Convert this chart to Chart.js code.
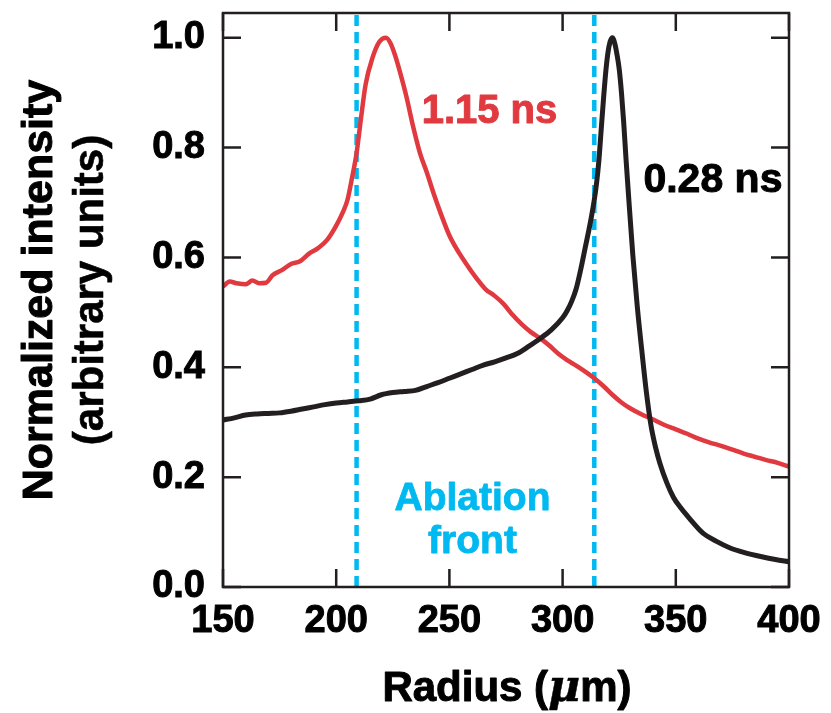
<!DOCTYPE html>
<html>
<head>
<meta charset="utf-8">
<title>Normalized intensity vs radius</title>
<script src="https://cdn.jsdelivr.net/npm/chart.js@4.4.1/dist/chart.umd.min.js"></script>
<style>
  html, body { margin: 0; padding: 0; background: #fff; }
  #wrap { width: 831px; height: 713px; }
</style>
</head>
<body>
<div id="wrap"><canvas id="profile"></canvas></div>
<script>
// --- Lineout data: radius (um) vs normalized intensity ---
const late_r = [150, 153, 156, 160, 163, 166, 169, 172, 176, 180, 184, 188, 192, 196, 200, 203,
  205, 207, 209, 211, 213, 216, 219, 222, 224, 226, 228, 231, 234, 237, 240, 243, 246, 250, 254,
  258, 262, 266, 270, 274, 278, 282, 286, 290, 294, 298, 302, 306, 310, 314, 318, 322, 326, 330,
  335, 340, 345, 350, 355, 360, 365, 370, 375, 380, 385, 390, 395, 400];
const late_i = [0.547, 0.556, 0.553, 0.551, 0.558, 0.553, 0.554, 0.568, 0.577, 0.588, 0.593,
  0.607, 0.617, 0.632, 0.658, 0.683, 0.705, 0.745, 0.790, 0.855, 0.915, 0.963, 0.992, 1.000,
  0.990, 0.968, 0.940, 0.893, 0.838, 0.790, 0.755, 0.717, 0.682, 0.640, 0.610, 0.585, 0.562,
  0.542, 0.530, 0.515, 0.495, 0.478, 0.464, 0.453, 0.440, 0.425, 0.413, 0.403, 0.392, 0.380,
  0.366, 0.350, 0.336, 0.325, 0.314, 0.305, 0.295, 0.287, 0.279, 0.270, 0.263, 0.257, 0.250,
  0.243, 0.237, 0.231, 0.226, 0.219];

const early_r = [150, 155, 160, 165, 170, 175, 180, 185, 190, 195, 200, 205, 210, 215, 220, 225,
  230, 235, 240, 245, 250, 255, 260, 265, 270, 275, 280, 285, 290, 295, 300, 302, 304, 306, 308,
  310, 312, 314, 315, 316, 317, 318, 319, 320, 321, 322, 323, 324, 325, 326, 327, 328, 329, 331,
  333, 335, 337, 339, 341, 343, 346, 349, 352, 356, 362, 368, 374, 380, 388, 394, 400];
const early_i = [0.304, 0.308, 0.313, 0.315, 0.316, 0.317, 0.320, 0.324, 0.328, 0.332, 0.335,
  0.337, 0.339, 0.342, 0.350, 0.354, 0.356, 0.358, 0.365, 0.372, 0.380, 0.388, 0.396, 0.404,
  0.410, 0.417, 0.425, 0.438, 0.452, 0.468, 0.490, 0.503, 0.520, 0.543, 0.578, 0.618, 0.658,
  0.705, 0.735, 0.775, 0.830, 0.885, 0.935, 0.972, 0.993, 1.000, 0.990, 0.970, 0.943, 0.900,
  0.845, 0.780, 0.720, 0.605, 0.510, 0.430, 0.355, 0.295, 0.255, 0.225, 0.190, 0.163, 0.145,
  0.125, 0.098, 0.083, 0.071, 0.063, 0.055, 0.050, 0.046];

// ablation front positions (um)
const ablation_r = [209, 314];

const x_ticks = [150, 200, 250, 300, 350, 400];
const y_ticks = [0.0, 0.2, 0.4, 0.6, 0.8, 1.0];
const Y_MAX = 1.045;

const RED = '#e03a40';
const INK = '#231f20';
const CYAN = '#00b9f1';
const FONT = '"Liberation Sans", Arial, Helvetica, sans-serif';

function toPoints(xs, ys) {
  return xs.map((x, i) => ({ x: x, y: ys[i] }));
}

const frontSets = ablation_r.map(r => ({
  data: [{ x: r, y: 0 }, { x: r, y: Y_MAX }],
  borderColor: CYAN,
  borderWidth: 4.5,
  borderDash: [11, 6],
  pointRadius: 0,
  order: 5
}));

// frame with inward ticks on all four sides
const framePlugin = {
  id: 'frame',
  afterDatasetsDraw(chart) {
    const { ctx, chartArea: a, scales: { x, y } } = chart;
    const len = 18;
    ctx.save();
    ctx.strokeStyle = INK;
    ctx.lineWidth = 2.5;
    ctx.strokeRect(a.left, a.top, a.right - a.left, a.bottom - a.top);
    ctx.beginPath();
    x_ticks.forEach(v => {
      const px = x.getPixelForValue(v);
      ctx.moveTo(px, a.bottom); ctx.lineTo(px, a.bottom - len);
      ctx.moveTo(px, a.top); ctx.lineTo(px, a.top + len);
    });
    y_ticks.forEach(v => {
      const py = y.getPixelForValue(v);
      ctx.moveTo(a.left, py); ctx.lineTo(a.left + len, py);
      ctx.moveTo(a.right, py); ctx.lineTo(a.right - len, py);
    });
    ctx.stroke();
    ctx.restore();
  }
};

// filled text with a thin outline in the same colour, for a heavier face
function heavyText(ctx, str, x, y, w) {
  ctx.lineWidth = w;
  ctx.strokeStyle = ctx.fillStyle;
  ctx.lineJoin = 'round';
  ctx.strokeText(str, x, y);
  ctx.fillText(str, x, y);
}

// curve labels, ablation-front label and axis titles
const labelPlugin = {
  id: 'labels',
  afterDraw(chart) {
    const { ctx, scales: { x, y } } = chart;
    ctx.save();
    ctx.textAlign = 'center';
    ctx.textBaseline = 'alphabetic';
    ctx.font = 'bold 40px ' + FONT;

    ctx.fillStyle = RED;
    heavyText(ctx, '1.15 ns', x.getPixelForValue(267.7), y.getPixelForValue(0.845), 1);
    ctx.fillStyle = '#000';
    ctx.font = 'bold 41px ' + FONT;
    heavyText(ctx, '0.28 ns', x.getPixelForValue(366.4), y.getPixelForValue(0.719), 1);
    ctx.fillStyle = CYAN;
    ctx.font = 'bold 39px ' + FONT;
    heavyText(ctx, 'Ablation', x.getPixelForValue(260.2), y.getPixelForValue(0.140), 0.8);
    heavyText(ctx, 'front', x.getPixelForValue(260.2), y.getPixelForValue(0.062), 0.8);

    // x title: Radius (μm) with italic mu
    ctx.fillStyle = '#000';
    ctx.textAlign = 'left';
    const partA = 'Radius (', partB = '\u03bc', partC = 'm)';
    const fA = 'bold 42px ' + FONT, fB = 'italic bold 44px "DejaVu Serif", serif';
    ctx.font = fA; const wA = ctx.measureText(partA).width, wC = ctx.measureText(partC).width;
    ctx.font = fB; const wB = ctx.measureText(partB).width;
    let tx = 507 - (wA + wB + wC) / 2;
    const ty = 701;
    ctx.font = fA; heavyText(ctx, partA, tx, ty, 1); tx += wA;
    ctx.font = fB; heavyText(ctx, partB, tx, ty, 0.5); tx += wB;
    ctx.font = fA; heavyText(ctx, partC, tx, ty, 1);

    // y title, two lines, rotated
    ctx.translate(0, 290);
    ctx.rotate(-Math.PI / 2);
    ctx.textAlign = 'center';
    ctx.textBaseline = 'middle';
    ctx.font = 'bold 43px ' + FONT;
    heavyText(ctx, 'Normalized intensity', 0, 40, 1);
    ctx.font = 'bold 42px ' + FONT;
    heavyText(ctx, '(arbitrary units)', 0, 91, 0.6);
    ctx.restore();
  }
};

const tickFont = { family: FONT, size: 38, weight: 'bold' };

new Chart(document.getElementById('profile'), {
  type: 'line',
  data: {
    datasets: [
      {
        data: toPoints(late_r, late_i),
        borderColor: RED,
        borderWidth: 4.5,
        pointRadius: 0,
        cubicInterpolationMode: 'monotone',
        order: 1
      },
      {
        data: toPoints(early_r, early_i),
        borderColor: INK,
        borderWidth: 5,
        pointRadius: 0,
        cubicInterpolationMode: 'monotone',
        order: 0
      },
      ...frontSets
    ]
  },
  options: {
    responsive: true,
    maintainAspectRatio: false,
    animation: false,
    layout: { padding: { top: 13, right: 42, left: 0, bottom: 0 } },
    plugins: { legend: { display: false }, tooltip: { enabled: false } },
    scales: {
      x: {
        type: 'linear',
        min: 150,
        max: 400,
        afterBuildTicks: s => { s.ticks = x_ticks.map(v => ({ value: v })); },
        afterFit: s => { s.height = 126; s.paddingLeft = 0; s.paddingRight = 0; },
        grid: { display: false, drawTicks: false },
        border: { display: false },
        ticks: {
          color: '#000', padding: 12, maxRotation: 0, font: tickFont,
          textStrokeColor: '#000', textStrokeWidth: 1
        }
      },
      y: {
        min: 0,
        max: Y_MAX,
        afterBuildTicks: s => { s.ticks = y_ticks.map(v => ({ value: v })); },
        afterFit: s => { s.width = 223; s.paddingTop = 0; s.paddingBottom = 0; },
        grid: { display: false, drawTicks: false },
        border: { display: false },
        ticks: {
          color: '#000',
          padding: 18,
          font: tickFont,
          textStrokeColor: '#000',
          textStrokeWidth: 1,
          callback: v => v.toFixed(1)
        }
      }
    }
  },
  plugins: [framePlugin, labelPlugin]
});
</script>
</body>
</html>
